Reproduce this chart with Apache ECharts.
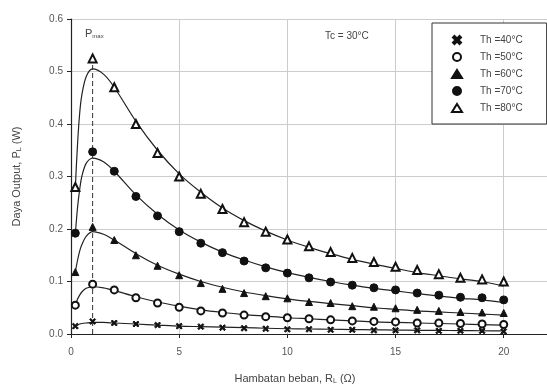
<!DOCTYPE html>
<html>
<head>
<meta charset="utf-8">
<script src="https://cdn.jsdelivr.net/npm/echarts@6/dist/echarts.min.js"></script>
<style>
  html, body { margin: 0; padding: 0; background: #fff; }
  #chart { width: 547px; height: 390px; }
</style>
</head>
<body>
<div id="chart"></div>
<script>
  // measured points (R_L in ohm)
  const xMarks = [0.2, 1, 2, 3, 4, 5, 6, 7, 8, 9, 10, 11, 12, 13, 14, 15, 16, 17, 18, 19, 20];
  const th40 = [0.015, 0.024, 0.021, 0.019, 0.017, 0.015, 0.014, 0.012, 0.011, 0.010, 0.009, 0.009, 0.008, 0.008, 0.007, 0.007, 0.007, 0.006, 0.006, 0.006, 0.005];
  const th50 = [0.055, 0.095, 0.084, 0.069, 0.059, 0.051, 0.044, 0.040, 0.036, 0.033, 0.031, 0.029, 0.027, 0.025, 0.024, 0.023, 0.021, 0.021, 0.020, 0.019, 0.018];
  const th60 = [0.118, 0.204, 0.179, 0.150, 0.130, 0.112, 0.097, 0.086, 0.078, 0.072, 0.068, 0.061, 0.059, 0.053, 0.052, 0.049, 0.046, 0.044, 0.042, 0.041, 0.040];
  const th70 = [0.192, 0.347, 0.310, 0.262, 0.225, 0.195, 0.173, 0.155, 0.139, 0.126, 0.116, 0.107, 0.099, 0.093, 0.088, 0.084, 0.078, 0.074, 0.070, 0.069, 0.065];
  const th80 = [0.280, 0.525, 0.470, 0.400, 0.345, 0.300, 0.267, 0.238, 0.213, 0.195, 0.180, 0.167, 0.156, 0.145, 0.137, 0.128, 0.122, 0.114, 0.107, 0.104, 0.100];

  // fitted curves
  const xCurve = [0.2, 0.3, 0.4, 0.5, 0.7, 1, 1.5, 2, 3, 4, 5, 6, 7, 8, 9, 10, 11, 12, 13, 14, 15, 16, 17, 18, 19, 20];
  const fit40 = [0.015, 0.017, 0.019, 0.020, 0.021, 0.022, 0.022, 0.021, 0.019, 0.017, 0.015, 0.014, 0.013, 0.012, 0.011, 0.010, 0.0095, 0.009, 0.0085, 0.008, 0.0075, 0.007, 0.0068, 0.0065, 0.0062, 0.006];
  const fit50 = [0.055, 0.066, 0.074, 0.080, 0.087, 0.090, 0.088, 0.083, 0.071, 0.061, 0.053, 0.046, 0.041, 0.037, 0.034, 0.031, 0.029, 0.027, 0.025, 0.023, 0.022, 0.021, 0.020, 0.019, 0.018, 0.017];
  const fit60 = [0.118, 0.140, 0.158, 0.170, 0.186, 0.195, 0.190, 0.179, 0.153, 0.131, 0.114, 0.100, 0.089, 0.080, 0.073, 0.067, 0.062, 0.058, 0.054, 0.050, 0.047, 0.044, 0.042, 0.040, 0.038, 0.036];
  const fit70 = [0.190, 0.240, 0.275, 0.300, 0.325, 0.335, 0.328, 0.310, 0.265, 0.228, 0.198, 0.175, 0.156, 0.141, 0.128, 0.117, 0.108, 0.100, 0.093, 0.087, 0.082, 0.077, 0.072, 0.068, 0.065, 0.060];
  const fit80 = [0.280, 0.360, 0.420, 0.455, 0.490, 0.505, 0.495, 0.470, 0.405, 0.350, 0.305, 0.270, 0.240, 0.216, 0.196, 0.179, 0.165, 0.153, 0.142, 0.133, 0.125, 0.117, 0.111, 0.105, 0.100, 0.091];

  const pmaxLine = [[1, 0], [1, 0.515]];
  const names = ['Th =40°C', 'Th =50°C', 'Th =60°C', 'Th =70°C', 'Th =80°C'];

  const crossPath = 'path://M0,1.8L1.8,0L5,3.2L8.2,0L10,1.8L6.8,5L10,8.2L8.2,10L5,6.8L1.8,10L0,8.2L3.2,5Z';
  const marks = [
    { data: th40, symbol: crossPath, size: 6 },
    { data: th50, symbol: 'emptyCircle', size: 7 },
    { data: th60, symbol: 'triangle', size: 7 },
    { data: th70, symbol: 'circle', size: 8 },
    { data: th80, symbol: 'emptyTriangle', size: 8 }
  ];
  const fits = [fit40, fit50, fit60, fit70, fit80];

  const zip = (xs, ys) => xs.map((x, i) => [x, ys[i]]);

  const series = [];
  fits.forEach(f => {
    series.push({
      type: 'line',
      data: zip(xCurve, f),
      smooth: 0.3,
      showSymbol: false,
      silent: true,
      lineStyle: { color: '#222', width: 1.2 },
      z: 2
    });
  });
  series.push({
    type: 'line',
    data: pmaxLine,
    showSymbol: false,
    silent: true,
    lineStyle: { color: '#333', width: 1, type: [5, 3] },
    z: 1
  });
  marks.forEach((m, i) => {
    series.push({
      name: names[i],
      type: 'scatter',
      data: zip(xMarks, m.data),
      symbol: m.symbol,
      symbolSize: m.size,
      itemStyle: { color: '#111', borderColor: '#111', borderWidth: 1, opacity: 1 },
      z: 3
    });
  });

  const chart = echarts.init(document.getElementById('chart'));
  chart.setOption({
    animation: false,
    textStyle: { fontFamily: 'Liberation Sans' },
    grid: { left: 71, top: 19, width: 483, height: 315 },
    legend: {
      data: names,
      orient: 'vertical',
      left: 432,
      top: 23,
      padding: [12, 24, 11, 19],
      itemGap: 7,
      itemWidth: 10,
      itemHeight: 8,
      backgroundColor: '#fff',
      borderColor: '#333',
      borderWidth: 1,
      textStyle: { fontSize: 10, color: '#444', padding: [0, 0, 0, 13] }
    },
    xAxis: {
      type: 'value',
      min: 0,
      max: 22,
      interval: 5,
      name: 'Hambatan beban, R{s|L} (Ω)',
      nameLocation: 'middle',
      nameGap: 38,
      nameTextStyle: {
        fontSize: 11, color: '#444', padding: [0, 28, 0, 0],
        rich: { s: { fontSize: 7, color: '#444', verticalAlign: 'bottom', padding: [6, 0, 0, 0] } }
      },
      axisLine: { onZero: false, lineStyle: { color: '#222', width: 1.2 } },
      axisTick: { show: true, length: 4, lineStyle: { color: '#222' } },
      axisLabel: { fontSize: 10, color: '#555', margin: 13, showMaxLabel: false },
      splitLine: { show: true, lineStyle: { color: '#ccc', width: 1 } }
    },
    yAxis: {
      type: 'value',
      min: 0,
      max: 0.6,
      interval: 0.1,
      name: 'Daya Output, P{s|L} (W)',
      nameLocation: 'middle',
      nameGap: 48,
      nameTextStyle: {
        fontSize: 11, color: '#444',
        rich: { s: { fontSize: 7, color: '#444', verticalAlign: 'bottom', padding: [6, 0, 0, 0] } }
      },
      axisLine: { show: true, lineStyle: { color: '#222', width: 1.2 } },
      axisTick: { show: true, length: 4, lineStyle: { color: '#222' } },
      axisLabel: { fontSize: 10, color: '#555', margin: 8, formatter: v => v.toFixed(1) },
      splitLine: { show: true, lineStyle: { color: '#ccc', width: 1 } }
    },
    graphic: [
      {
        type: 'text', left: 85, top: 28,
        style: {
          text: 'P{s|max}',
          fontSize: 11, fill: '#444', fontFamily: 'Liberation Sans',
          rich: { s: { fontSize: 6, fill: '#444', padding: [6, 0, 0, 0] } }
        }
      },
      {
        type: 'text', left: 325, top: 31,
        style: { text: 'Tc = 30°C', fontSize: 10, fill: '#444', fontFamily: 'Liberation Sans' }
      }
    ],
    series: series
  });
</script>
</body>
</html>
